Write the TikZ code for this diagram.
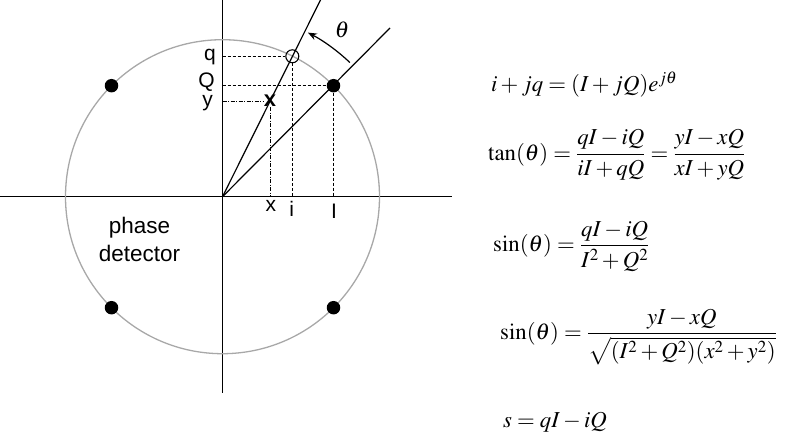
\documentclass[tikz,border=0pt]{standalone}
\usepackage{mathptmx}
\usepackage{fontspec}
\setmainfont{Liberation Serif}
\newfontfamily\labfont{Liberation Sans}
\usetikzlibrary{arrows.meta}
\definecolor{ringgray}{HTML}{A8A8A8}
\begin{document}
\begin{tikzpicture}[x=1pt,y=-1pt,
  axisline/.style={line width=1.4pt,black},
  ringline/.style={line width=1.3pt,ringgray},
  rayline/.style={line width=1.2pt,black},
  dashline/.style={line width=0.8pt,black,dash pattern=on 3pt off 2pt},
  dotline/.style={line width=0.8pt,black,dash pattern=on 4pt off 1.5pt on 1pt off 1.5pt},
  dot/.style={circle,fill=black,minimum size=13.5pt,inner sep=0pt},
  ocirc/.style={circle,draw=black,line width=1.1pt,minimum size=13pt,inner sep=0pt},
  lab/.style={font=\labfont\fontsize{21}{25}\selectfont,inner sep=0pt},
  eq/.style={font=\fontsize{22.8}{27}\selectfont,inner sep=0pt},
  arcarrow/.style={line width=1.2pt,-{Stealth[length=9pt,width=7pt]}}]
\useasboundingbox (0,0) rectangle (785,436);
% axes
\coordinate (O) at (222.5,196.7);
\coordinate (xl) at (0,196.7);
\coordinate (xr) at (452,196.7);
\coordinate (yt) at (222.5,0);
\coordinate (yb) at (222.5,393);
\draw[axisline] (xl) -- (xr);
\draw[axisline] (yt) -- (yb);
% ring
\draw[ringline] (O) circle[radius=157];
% constellation points
\node[dot] (d1) at (333.5,85.7) {};
\node[dot] (d2) at (111.5,85.7) {};
\node[dot] (d3) at (111.5,307.7) {};
\node[dot] (d4) at (333.5,307.7) {};
% rays
\coordinate (Iend) at (390,28);
\coordinate (Tend) at (320.5,0);
\draw[rayline] (O) -- (Iend);
\draw[rayline] (O) -- (Tend);
% rotated point and measured point
\node[ocirc] (oc) at (292.3,56.3) {};
\node[font=\labfont\bfseries\fontsize{22}{26}\selectfont,inner sep=0pt] (xm) at (270,101) {x};
% projections
\coordinate (qa) at (222.5,56.3);
\coordinate (Qa) at (222.5,85.7);
\coordinate (ya) at (222.5,101);
\coordinate (ia) at (292.3,196.7);
\coordinate (Ia) at (333.5,196.7);
\coordinate (xa) at (270,196.7);
\draw[dashline] (qa) -- (oc);
\draw[dashline] (Qa) -- (d1);
\draw[dotline] (ya) -- (xm);
\draw[dashline] (oc) -- (ia);
\draw[dashline] (d1) -- (Ia);
\draw[dotline] (xm) -- (xa);
% theta arc
\draw[arcarrow] (O) ++(-46.5:185) arc[start angle=-46.5,end angle=-62.5,radius=185];
\node[eq] (th) at (342,30) {$\theta$};
% axis labels
\node[lab,anchor=base east] (lq) at (216,61) {q};
\node[lab,anchor=base east] (lQ) at (215,88) {Q};
\node[lab,anchor=base east] (ly) at (213,106.5) {y};
\node[lab,anchor=base] (lx) at (270.8,211.7) {x};
\node[lab,anchor=base] (li) at (291.7,216.5) {i};
\node[lab,anchor=base] (lI) at (334,218.5) {I};
\node[lab,align=center,font=\labfont\fontsize{22.5}{28.4}\selectfont] (pd) at (139.5,239.5) {phase\\detector};
% equations
\node[eq,anchor=base west] (e1) at (491,92) {$i + jq = (I + jQ)e^{j\theta}$};
\node[eq,anchor=west] (e2) at (488,155) {$\displaystyle \tan(\theta) = \frac{qI - iQ}{iI + qQ} = \frac{yI - xQ}{xI + yQ}$};
\node[eq,anchor=west] (e3) at (493,246) {$\displaystyle \sin(\theta) = \frac{qI - iQ}{I^2 + Q^2}$};
\node[eq,anchor=west] (e4) at (500,337) {$\displaystyle \sin(\theta) = \frac{yI - xQ}{\sqrt{(I^2 + Q^2)(x^2 + y^2)}}$};
\node[eq,anchor=base west] (e5) at (503,427) {$s = qI - iQ$};
\end{tikzpicture}
\end{document}
